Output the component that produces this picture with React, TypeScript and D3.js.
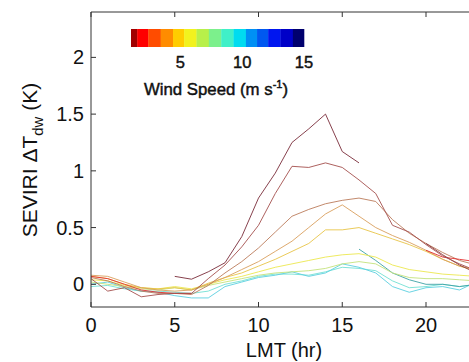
import React from "react";
import * as d3 from "d3";

const HOURS = [0,1,2,3,4,5,6,7,8,9,10,11,12,13,14,15,16,17,18,19,20,21,22,23];

type V = number | null;
const N = null;

// series values per hour (ΔT_dw, K), null where missing
const S_A: V[] = [N,N,N,N,N,0.07,0.045,0.11,0.19,0.42,0.76,0.98,1.25,1.37,1.50,1.17,1.07,N,N,N,N,N,N,N];
const S_B: V[] = [0.05,-0.06,-0.03,-0.11,-0.09,-0.08,-0.08,0.05,0.17,0.33,0.52,0.80,1.04,1.03,1.07,1.03,0.92,0.80,0.52,0.46,0.35,0.25,0.18,0.12];
const S_DARK: V[] = [N,N,N,N,N,N,N,N,N,N,N,N,N,N,N,N,N,N,N,N,0.36,0.26,0.17,0.10];
const S_RED: V[] = [0.07,0.05,0.0,-0.05,-0.07,-0.08,-0.08,N,N,N,N,N,N,N,N,N,N,N,N,N,0.30,0.24,0.22,0.20];
const S_C: V[] = [0.06,0.03,-0.02,-0.06,-0.08,-0.08,-0.09,-0.01,0.10,0.20,0.32,0.46,0.60,0.66,0.71,0.74,0.76,0.73,0.57,0.45,0.36,0.28,0.21,0.17];
const S_D: V[] = [0.08,0.07,0.02,-0.03,-0.05,-0.06,-0.05,0.0,0.06,0.13,0.20,0.29,0.38,0.50,0.62,0.70,0.60,0.50,0.43,0.37,0.30,0.22,0.16,0.13];
const S_E: V[] = [0.07,0.05,0.0,-0.03,-0.04,-0.03,-0.05,0.01,0.06,0.10,0.16,0.22,0.29,0.36,0.48,0.48,0.50,0.45,0.40,0.35,0.29,0.22,0.16,0.12];
const S_F: V[] = [0.04,0.03,-0.01,-0.03,-0.04,-0.02,-0.04,0.0,0.04,0.07,0.11,0.15,0.18,0.21,0.24,0.26,0.27,0.24,0.17,0.13,0.11,0.09,0.08,0.07];
const S_G: V[] = [0.02,0.0,-0.02,-0.04,-0.05,-0.03,-0.05,-0.01,0.02,0.05,0.08,0.10,0.11,0.12,0.14,0.18,0.20,0.18,0.10,0.06,0.05,0.05,0.04,0.03];
const S_H: V[] = [N,N,N,N,N,N,N,N,N,N,N,N,N,N,N,N,0.31,0.21,0.10,0.04,0.0,0.0,-0.02,0.0];
const S_I: V[] = [0.0,0.02,-0.03,-0.06,-0.07,-0.10,-0.12,-0.12,-0.02,0.02,0.06,0.08,0.11,0.07,0.10,0.18,0.15,0.10,-0.02,-0.07,-0.03,-0.02,-0.05,0.02];
const S_J: V[] = [-0.02,-0.01,-0.04,-0.06,-0.06,-0.07,-0.08,-0.06,0.0,0.03,0.07,0.09,0.09,0.08,0.11,0.15,0.14,0.12,0.03,-0.03,-0.02,0.0,-0.02,0.0];

const SERIES: V[][] = [S_J, S_I, S_H, S_G, S_F, S_E, S_D, S_C, S_RED, S_DARK, S_B, S_A];
const SERIES_COLORS = ["#72e0d4", "#5ccfe0", "#3fa3a6", "#c4e27c", "#ece850", "#e8c448", "#d9a05e", "#bb7c5c", "#e43030", "#8c3c40", "#a4504e", "#7a2c3a"];

const X_TICKS = [0, 5, 10, 15, 20];
const Y_TICKS = [0, 0.5, 1, 1.5, 2];

const CB_COLORS = ["#a00000","#ff0000","#ff4c00","#ff8c00","#ffcc00","#f2f21e","#b8f04a","#7cf08c","#40f0c8","#00dcf0","#0090f4","#0058f0","#0016f0","#0000c8","#00006e"];
const CB_EDGES = [1, 1.5, 2.4, 3.4, 4.4, 5.3, 6.3, 7.3, 8.3, 9.3, 10.3, 11.2, 12.1, 13.1, 14.1, 15];
const CB_TICKS = [5, 10, 15];

const W = 469, H = 362;
const FONT = "'Liberation Sans', Arial, Helvetica, sans-serif";

export default function App() {
  const x = d3.scaleLinear().domain([0, 24]).range([91, 493]);
  const y = d3.scaleLinear().domain([-0.2, 2.4]).range([307, 12]);
  const cb = d3.scaleLinear().domain([1, 15]).range([131, 304]);

  const line = d3.line<[number, V]>()
    .defined(d => d[1] !== null)
    .x(d => x(d[0]))
    .y(d => y(d[1] as number));

  const axisColor = "#333";
  const semi = { stroke: "#111", strokeWidth: 0.45 };

  return (
    <svg width={W} height={H} style={{ position: "absolute", left: 0, top: 0, background: "#fff" }}
      xmlns="http://www.w3.org/2000/svg">
      <defs>
        <clipPath id="plot">
          <rect x={x(0)} y={y(2.4)} width={x(24) - x(0)} height={y(-0.2) - y(2.4)} />
        </clipPath>
      </defs>
      <rect x={0} y={0} width={W} height={H} fill="#fff" />
      <g clipPath="url(#plot)">
        {SERIES.map((s, i) => (
          <path key={i} d={line(HOURS.map((h, j) => [h, s[j]] as [number, V])) || ""}
            fill="none" stroke={SERIES_COLORS[i]} strokeWidth={1} strokeOpacity={0.9} strokeLinejoin="round" />
        ))}
      </g>
      {/* frame */}
      <line x1={x(0)} x2={x(0)} y1={y(2.4)} y2={y(-0.2)} stroke={axisColor} strokeWidth={1} />
      <line x1={x(0)} x2={W} y1={y(-0.2)} y2={y(-0.2)} stroke={axisColor} strokeWidth={1} />
      <line x1={x(0)} x2={W} y1={y(2.4)} y2={y(2.4)} stroke={axisColor} strokeWidth={1} />
      {X_TICKS.map(t => (
        <g key={"xt" + t}>
          <line x1={x(t)} x2={x(t)} y1={y(-0.2)} y2={y(-0.2) - 5} stroke={axisColor} />
          <line x1={x(t)} x2={x(t)} y1={y(2.4)} y2={y(2.4) + 5} stroke={axisColor} />
          <text x={x(t)} y={332} textAnchor="middle" fontFamily={FONT} fontSize={20} fill="#111">{t}</text>
        </g>
      ))}
      {Y_TICKS.map(t => (
        <g key={"yt" + t}>
          <line x1={x(0)} x2={x(0) + 5} y1={y(t)} y2={y(t)} stroke={axisColor} />
          <text x={84} y={y(t) + 7} textAnchor="end" fontFamily={FONT} fontSize={20} fill="#111">{t}</text>
        </g>
      ))}
      <text x={284} y={357} textAnchor="middle" fontFamily={FONT} fontSize={20} fill="#111">LMT (hr)</text>
      <text transform={`translate(37,160) rotate(-90)`} textAnchor="middle" fontFamily={FONT} fontSize={21} fill="#111">
        SEVIRI ΔT<tspan fontSize={15} dy={6}>dw</tspan><tspan dy={-6}> (K)</tspan>
      </text>
      {/* colorbar */}
      {CB_COLORS.map((c, i) => (
        <rect key={"cb" + i} x={cb(CB_EDGES[i])} y={29} width={cb(CB_EDGES[i + 1]) - cb(CB_EDGES[i]) + 0.3} height={18} fill={c} />
      ))}
      {CB_TICKS.map(t => (
        <text key={"cbt" + t} x={cb(t)} y={68} textAnchor="middle" fontFamily={FONT} fontSize={16.5} fill="#111" {...semi}>{t}</text>
      ))}
      <text x={216} y={95} textAnchor="middle" fontFamily={FONT} fontSize={16.8} fill="#111" {...semi}>
        Wind Speed (m s<tspan fontSize={11} dy={-7}>-1</tspan><tspan dy={7}>)</tspan>
      </text>
    </svg>
  );
}
